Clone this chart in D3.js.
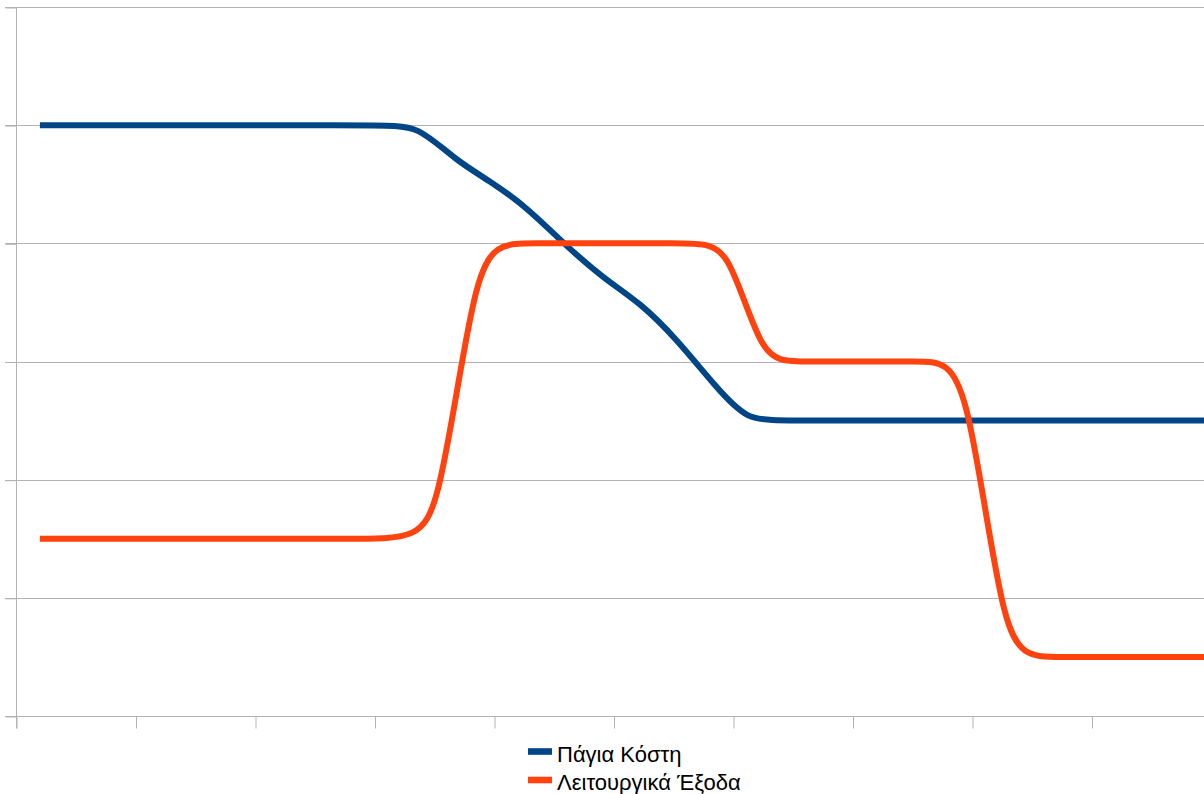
<!DOCTYPE html>
<html>
<head>
<meta charset="utf-8">
<script src="https://cdn.jsdelivr.net/npm/d3@7"></script>
<style>
  html, body { margin: 0; padding: 0; background: #fff; }
  svg { display: block; }
  text { font-family: "Liberation Sans", Arial, sans-serif; }
</style>
</head>
<body>
<svg id="chart" width="1204" height="794"></svg>
<script>
// Series: x position on the numeric axis and value, smoothed with a B-spline
const seriesNames = ["Πάγια Κόστη", "Λειτουργικά Έξοδα"];
const seriesColors = ["#004586", "#ff420e"];

const fixedCostX = [1, 15.4, 16.8, 18.4, 19.9, 21.4, 22.9, 24.6, 26.1, 27.6, 29.3, 30.6, 32.0, 50];
const fixedCostY = [5, 5, 5, 4.70, 4.52, 4.30, 4.0, 3.70, 3.50, 3.20, 2.78, 2.5, 2.5, 2.5];

const operatingX = [1, 16.05, 17.65, 19.25, 20.85, 28.4, 29.8, 31.2, 32.6, 38.2, 39.78, 41.33, 42.9, 50];
const operatingY = [1.5, 1.5, 1.5, 4, 4, 4, 4, 3, 3, 3, 3, 0.5, 0.5, 0.5];

// Axis ticks
const xTicks = d3.range(0, 55, 5);
const yTicks = d3.range(0, 7, 1);

const svg = d3.select("#chart");
const plotLeft = 16, plotRight = 1211, plotTop = 7, plotBottom = 716;

const x = d3.scaleLinear().domain([0, 50]).range([plotLeft, plotRight]);
const y = d3.scaleLinear().domain([0, 6]).range([plotBottom, plotTop]);

const gridColor = "#b3b3b3";

// Horizontal gridlines
svg.append("g")
  .selectAll("line")
  .data(yTicks.filter(d => d > 0))
  .join("line")
  .attr("x1", plotLeft - 11).attr("x2", 1204)
  .attr("y1", d => Math.round(y(d)) + 0.5)
  .attr("y2", d => Math.round(y(d)) + 0.5)
  .attr("stroke", gridColor)
  .attr("stroke-width", 1);

// Y axis with outward ticks
const yAxis = d3.axisLeft(y).tickValues(yTicks).tickSize(11).tickFormat("");
const gy = svg.append("g")
  .attr("transform", `translate(${plotLeft + 0.5},0.5)`)
  .call(yAxis);
gy.select(".domain").attr("stroke", gridColor).attr("d", `M0,${plotTop}V${plotBottom + 12}`);
gy.selectAll(".tick line").attr("stroke", gridColor);

// X axis with downward ticks
const xAxis = d3.axisBottom(x).tickValues(xTicks).tickSize(12).tickFormat("");
const gx = svg.append("g")
  .attr("transform", `translate(0.5,${plotBottom + 0.5})`)
  .call(xAxis);
gx.select(".domain").attr("stroke", gridColor).attr("d", `M${plotLeft - 11},0H${plotRight}`);
gx.selectAll(".tick line").attr("stroke", gridColor);

// Series lines
const series = [
  { name: seriesNames[0], color: seriesColors[0], pts: d3.zip(fixedCostX, fixedCostY) },
  { name: seriesNames[1], color: seriesColors[1], pts: d3.zip(operatingX, operatingY) }
];

const line = d3.line()
  .x(d => x(d[0]))
  .y(d => y(d[1]))
  .curve(d3.curveBasis);

series.forEach(s => {
  svg.append("path")
    .datum(s.pts)
    .attr("fill", "none")
    .attr("stroke", s.color)
    .attr("stroke-width", 6)
    .attr("stroke-linejoin", "round")
    .attr("d", line);
});

// Legend
const legend = svg.append("g").attr("transform", "translate(528,751.5)");
series.forEach((s, i) => {
  const g = legend.append("g").attr("transform", `translate(0,${i * 28.5})`);
  g.append("rect")
    .attr("x", 0).attr("y", -3.3)
    .attr("width", 24).attr("height", 6.6)
    .attr("fill", s.color);
  g.append("text")
    .attr("x", 29).attr("y", 10)
    .attr("font-size", 22)
    .attr("fill", "#000")
    .text(s.name);
});
</script>
</body>
</html>
